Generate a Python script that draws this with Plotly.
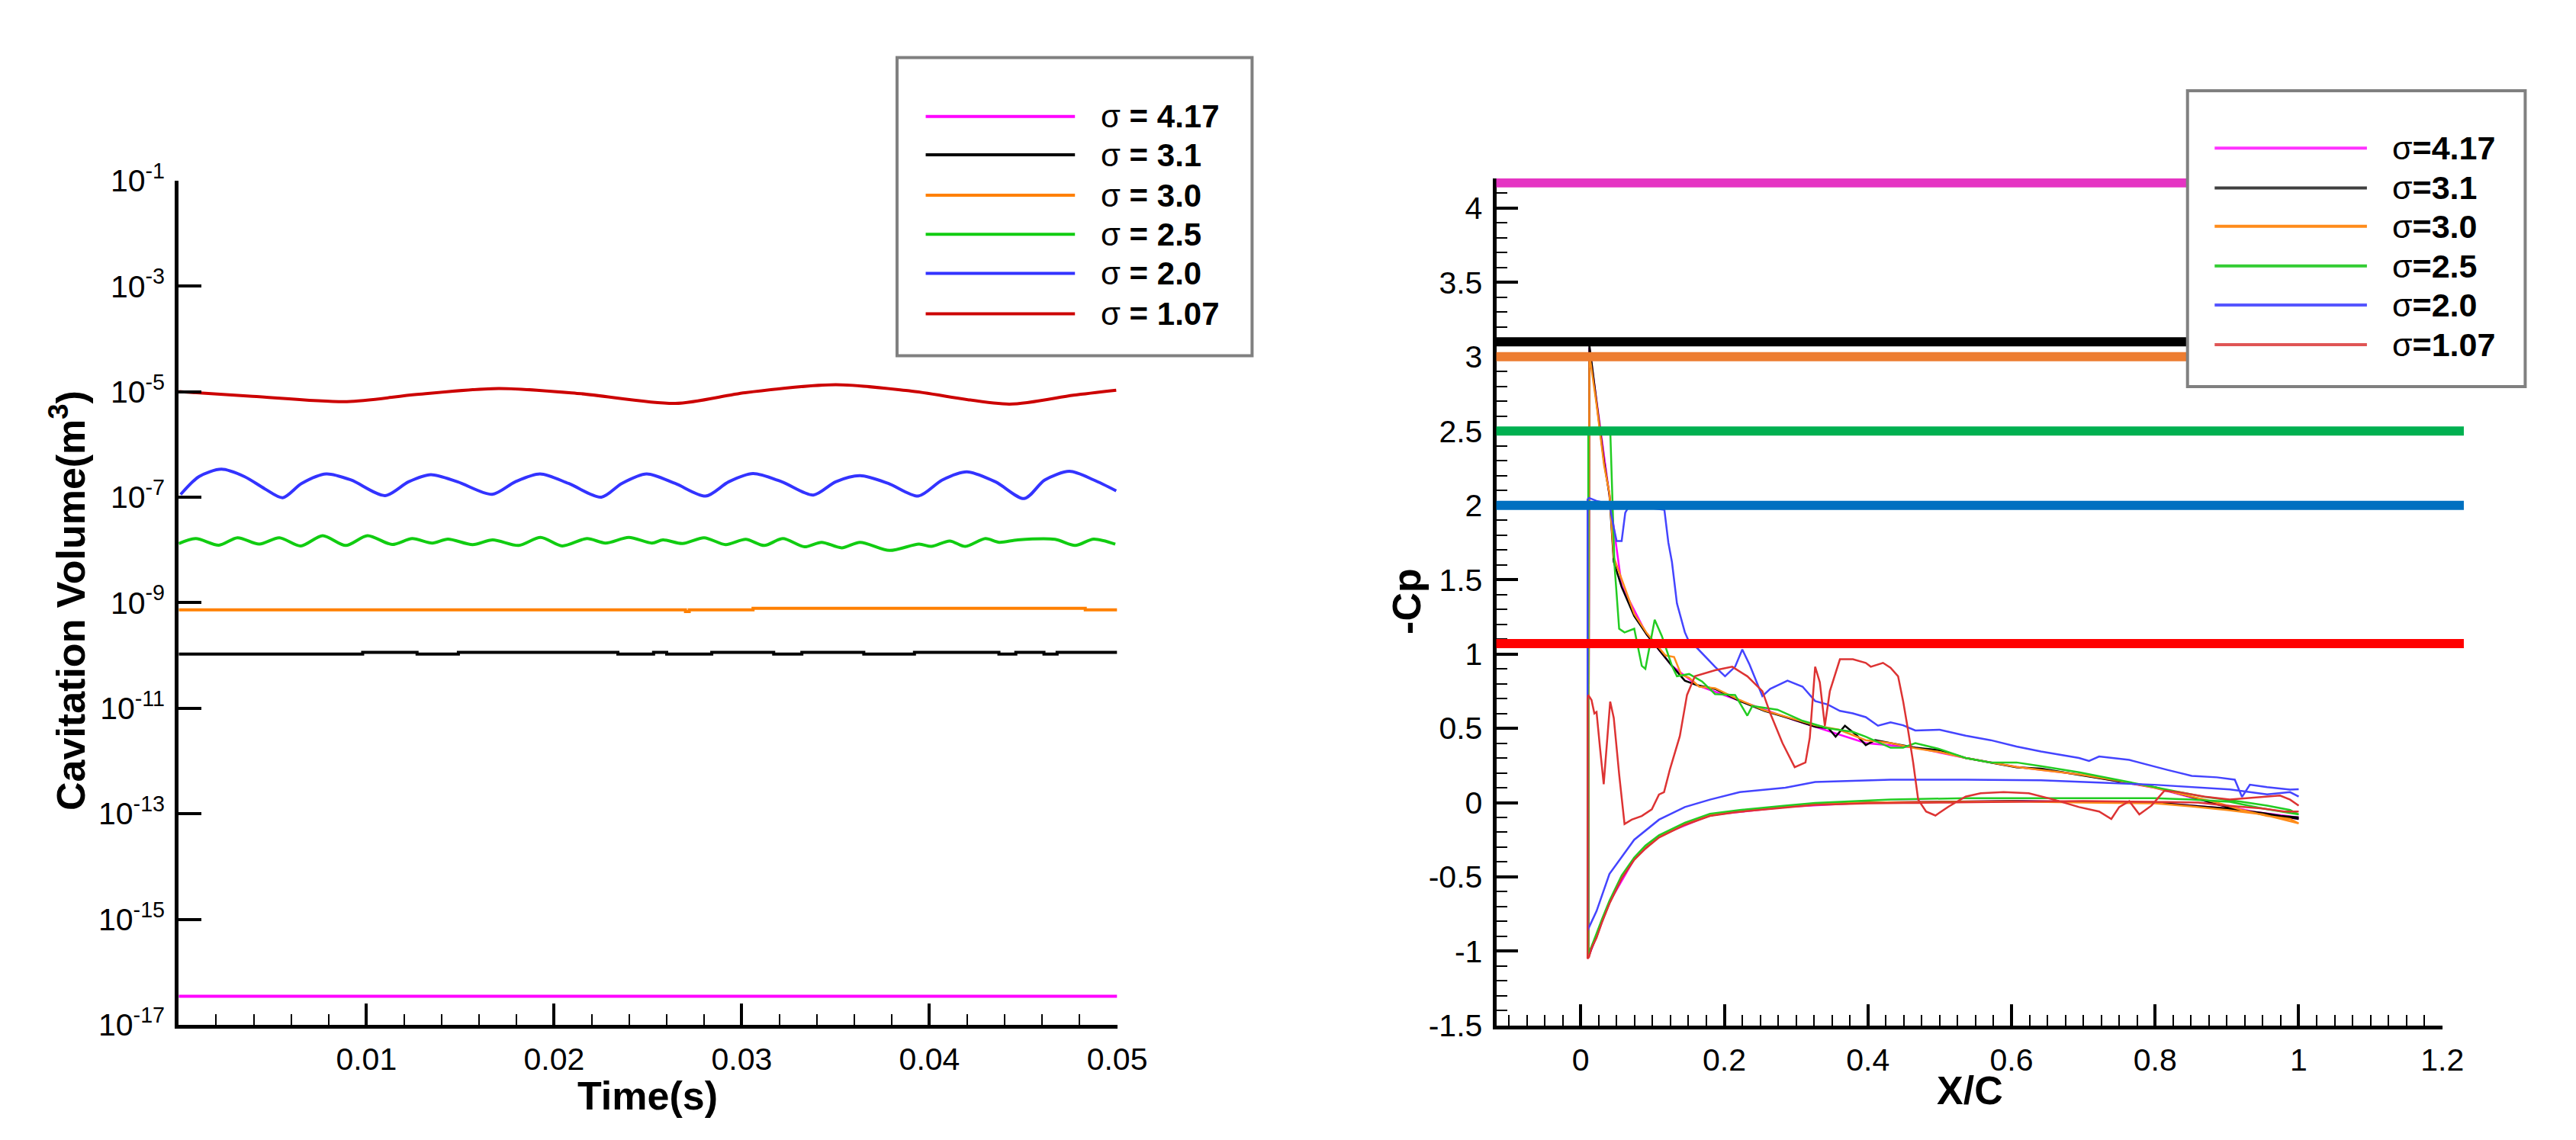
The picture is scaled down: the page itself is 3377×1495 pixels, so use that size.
import numpy as np
import plotly.graph_objects as go

W, H = 3377, 1495
FONT = "Liberation Sans, Arial, sans-serif"

# ---------------- left panel: cavitation volume (log10 of m^3) vs time ----------------
t_417 = [0.0, 0.05]
lv_417 = [-16.46, -16.46]

t_31 = [0, 0.0098, 0.0127, 0.0149, 0.0234, 0.0253, 0.0260, 0.0284, 0.0317,
        0.0332, 0.0365, 0.0392, 0.0437, 0.0446, 0.0461, 0.0468, 0.050]
lv_31 = [-9.975, -9.94, -9.975, -9.94, -9.975, -9.94, -9.975, -9.94, -9.975,
         -9.94, -9.975, -9.94, -9.975, -9.94, -9.975, -9.94, -9.94]

t_30 = [0, 0.0270, 0.0272, 0.0306, 0.0483, 0.050]
lv_30 = [-9.135, -9.17, -9.135, -9.108, -9.135, -9.135]

t_25 = [0, 0.00091, 0.00214, 0.00313, 0.00429, 0.00536, 0.0065, 0.00767, 0.0089,
        0.01006, 0.01137, 0.01244, 0.01351, 0.01434, 0.01566, 0.01673, 0.01811,
        0.01928, 0.02043, 0.02175, 0.02274, 0.02398, 0.02521, 0.0258, 0.02684,
        0.02799, 0.02914, 0.03021, 0.0312, 0.03219, 0.03334, 0.03425, 0.03532,
        0.0363, 0.03787, 0.03944, 0.0401, 0.04108, 0.04191, 0.04298, 0.04372,
        0.04471, 0.04669, 0.04776, 0.04875, 0.0499]
lv_25 = [-7.88, -7.785, -7.91, -7.77, -7.89, -7.77, -7.925, -7.73, -7.916,
         -7.73, -7.897, -7.785, -7.87, -7.795, -7.90, -7.81, -7.916,
         -7.763, -7.925, -7.785, -7.87, -7.763, -7.87, -7.81, -7.88,
         -7.77, -7.90, -7.80, -7.916, -7.785, -7.94, -7.855, -7.96,
         -7.855, -8.01, -7.89, -7.934, -7.83, -7.934, -7.785, -7.855,
         -7.81, -7.80, -7.916, -7.795, -7.89]

t_20 = [0.0001, 0.00108, 0.00227, 0.0035, 0.00458, 0.00554, 0.00655, 0.00786,
        0.00918, 0.0110, 0.01224, 0.01343, 0.01486, 0.0167, 0.01793, 0.01925,
        0.02077, 0.02252, 0.02361, 0.02493, 0.02645, 0.02808, 0.0293, 0.0306,
        0.03214, 0.03381, 0.035, 0.0363, 0.0378, 0.0394, 0.04068, 0.04199,
        0.04352, 0.04505, 0.04614, 0.04746, 0.04876, 0.04995]
lv_20 = [-6.95, -6.61, -6.47, -6.61, -6.84, -7.01, -6.74, -6.56,
         -6.675, -6.97, -6.71, -6.574, -6.71, -6.946, -6.71, -6.56,
         -6.74, -7.0, -6.74, -6.56, -6.74, -6.98, -6.71, -6.553,
         -6.71, -6.96, -6.71, -6.594, -6.74, -6.98, -6.675, -6.52,
         -6.71, -7.027, -6.675, -6.51, -6.675, -6.88]

t_107 = [0, 0.00393, 0.00896, 0.01268, 0.01705, 0.02143, 0.02646, 0.03018,
         0.0350, 0.03893, 0.04426, 0.04767, 0.04995]
lv_107 = [-5.0, -5.088, -5.19, -5.054, -4.94, -5.04, -5.223, -5.02,
          -4.87, -4.986, -5.237, -5.068, -4.973]

# ---------------- right panel: -Cp along the chord, upper and lower surfaces ----------------
xu_417 = [0.012, 0.022, 0.040, 0.057, 0.092, 0.127, 0.162, 0.2215, 0.291, 0.3265, 0.397,
          0.466, 0.536, 0.607, 0.694, 0.799, 0.886, 0.956, 1.0]
cu_417 = [3.06, 2.70, 2.06, 1.46, 1.13, 0.92, 0.79, 0.685, 0.565, 0.51, 0.40,
          0.37, 0.30, 0.24, 0.19, 0.10, -0.01, -0.08, -0.11]
xl_417 = [0.0105, 0.022, 0.040, 0.0745, 0.109, 0.18, 0.285, 0.40, 0.60, 0.80, 0.90, 1.0]
cl_417 = [-1.04, -0.90, -0.67, -0.38, -0.225, -0.085, -0.03, 0.0, 0.01, 0.0, -0.04, -0.10]

xu_31 = [0.012, 0.016, 0.022, 0.0325, 0.040, 0.046, 0.057, 0.0745, 0.092, 0.109, 0.127,
         0.145, 0.162, 0.187, 0.2215, 0.256, 0.291, 0.3265, 0.345, 0.355, 0.368, 0.385,
         0.397, 0.41, 0.4315, 0.466, 0.50, 0.536, 0.571, 0.607, 0.641, 0.694, 0.746,
         0.799, 0.851, 0.886, 0.921, 0.956, 0.988, 1.0]
cu_31 = [3.08, 2.95, 2.71, 2.29, 2.07, 1.62, 1.45, 1.255, 1.13, 1.03, 0.92,
         0.82, 0.79, 0.765, 0.683, 0.617, 0.567, 0.51, 0.50, 0.443, 0.517, 0.45,
         0.387, 0.42, 0.40, 0.369, 0.352, 0.30, 0.27, 0.237, 0.228, 0.187, 0.145,
         0.104, 0.038, -0.012, -0.053, -0.086, -0.10, -0.11]
xl_31 = [0.0105, 0.015, 0.022, 0.030, 0.040, 0.057, 0.0745, 0.09, 0.109, 0.145, 0.18,
         0.215, 0.285, 0.3265, 0.40, 0.50, 0.60, 0.70, 0.80, 0.85, 0.90, 0.95, 0.975, 1.0]
cl_31 = [-1.04, -0.98, -0.90, -0.79, -0.675, -0.506, -0.38, -0.30, -0.228, -0.144, -0.087,
         -0.06, -0.03, -0.01, 0.0, 0.005, 0.01, 0.005, 0.0, -0.02, -0.04, -0.07, -0.09, -0.10]

xu_30 = [0.012, 0.016, 0.022, 0.0325, 0.040, 0.046, 0.057, 0.0745, 0.092, 0.109, 0.118,
         0.130, 0.140, 0.151, 0.165, 0.187, 0.2215, 0.256, 0.291, 0.3265, 0.36, 0.397,
         0.4315, 0.466, 0.50, 0.536, 0.571, 0.607, 0.641, 0.694, 0.746, 0.799, 0.851,
         0.886, 0.921, 0.956, 0.988, 1.0]
cu_30 = [3.02, 2.90, 2.68, 2.27, 2.08, 1.65, 1.50, 1.27, 1.14, 1.04, 0.99,
         0.98, 0.86, 0.84, 0.78, 0.77, 0.69, 0.62, 0.57, 0.52, 0.49, 0.42,
         0.40, 0.365, 0.34, 0.30, 0.27, 0.24, 0.22, 0.19, 0.15, 0.10, 0.04,
         0.0, -0.05, -0.09, -0.11, -0.14]
xl_30 = [0.0105, 0.015, 0.022, 0.030, 0.040, 0.057, 0.0745, 0.09, 0.109, 0.145, 0.18,
         0.215, 0.285, 0.3265, 0.40, 0.50, 0.60, 0.70, 0.80, 0.85, 0.90, 0.95, 0.975, 1.0]
cl_30 = [-1.03, -0.97, -0.89, -0.785, -0.67, -0.50, -0.375, -0.295, -0.225, -0.14, -0.085,
         -0.058, -0.028, -0.01, 0.0, 0.005, 0.008, 0.0, -0.005, -0.025, -0.05, -0.08, -0.11, -0.14]

xu_25 = [0.0105, 0.041, 0.047, 0.0535, 0.061, 0.0745, 0.085, 0.090, 0.103, 0.113, 0.127,
         0.134, 0.151, 0.169, 0.187, 0.215, 0.232, 0.239, 0.274, 0.309, 0.344, 0.379,
         0.397, 0.4315, 0.449, 0.466, 0.50, 0.536, 0.571, 0.607, 0.641, 0.694, 0.746,
         0.799, 0.869, 0.921, 0.956, 0.988, 1.0]
cu_25 = [2.52, 2.52, 1.60, 1.17, 1.145, 1.17, 0.92, 0.90, 1.23, 1.12, 0.92,
         0.85, 0.865, 0.815, 0.73, 0.724, 0.585, 0.65, 0.625, 0.55, 0.50, 0.476,
         0.443, 0.369, 0.37, 0.40, 0.36, 0.30, 0.27, 0.27, 0.245, 0.204, 0.154,
         0.104, 0.038, 0.005, -0.02, -0.05, -0.08]
xl_25 = [0.0105, 0.015, 0.022, 0.030, 0.040, 0.057, 0.0745, 0.09, 0.109, 0.145, 0.18,
         0.2215, 0.285, 0.3265, 0.4315, 0.536, 0.589, 0.70, 0.799, 0.85, 0.904, 0.95, 0.988, 1.0]
cl_25 = [-1.02, -0.97, -0.88, -0.78, -0.66, -0.49, -0.37, -0.29, -0.22, -0.135, -0.075,
         -0.05, -0.02, -0.003, 0.02, 0.03, 0.03, 0.03, 0.03, 0.02, 0.005, -0.04, -0.07, -0.08]

xu_20 = [0.0095, 0.0115, 0.022, 0.040, 0.046, 0.050, 0.057, 0.062, 0.068, 0.1165, 0.122,
         0.127, 0.134, 0.145, 0.151, 0.162, 0.187, 0.201, 0.215, 0.225, 0.235, 0.253,
         0.264, 0.288, 0.309, 0.3265, 0.344, 0.361, 0.379, 0.397, 0.414, 0.4315, 0.449,
         0.466, 0.50, 0.536, 0.571, 0.607, 0.641, 0.694, 0.708, 0.722, 0.764, 0.817,
         0.851, 0.886, 0.911, 0.921, 0.932, 0.956, 0.988, 1.0]
cu_20 = [2.04, 2.05, 2.03, 2.01, 1.85, 1.76, 1.76, 1.95, 2.0, 1.97, 1.75,
         1.62, 1.34, 1.146, 1.08, 1.04, 0.914, 0.85, 0.914, 1.03, 0.93, 0.716,
         0.765, 0.82, 0.78, 0.683, 0.66, 0.617, 0.60, 0.575, 0.517, 0.54, 0.52,
         0.485, 0.49, 0.45, 0.42, 0.377, 0.344, 0.30, 0.28, 0.31, 0.287, 0.22,
         0.18, 0.17, 0.154, 0.038, 0.12, 0.104, 0.087, 0.09]
xl_20 = [0.0095, 0.0115, 0.022, 0.040, 0.0745, 0.109, 0.145, 0.18, 0.2215, 0.285, 0.3265,
         0.4315, 0.536, 0.641, 0.694, 0.799, 0.904, 0.956, 0.988, 1.0]
cl_20 = [-0.86, -0.84, -0.73, -0.48, -0.25, -0.115, -0.03, 0.02, 0.071, 0.10, 0.139,
         0.154, 0.154, 0.15, 0.139, 0.12, 0.088, 0.055, 0.07, 0.04]

xu_107 = [0.0095, 0.0105, 0.015, 0.019, 0.022, 0.027, 0.032, 0.036, 0.041, 0.046, 0.0535,
          0.061, 0.071, 0.085, 0.099, 0.109, 0.116, 0.124, 0.138, 0.148, 0.159, 0.187,
          0.211, 0.232, 0.253, 0.264, 0.281, 0.298, 0.313, 0.319, 0.3265, 0.333, 0.34,
          0.347, 0.361, 0.379, 0.397, 0.404, 0.421, 0.4315, 0.442, 0.449, 0.456, 0.463,
          0.47, 0.481, 0.494, 0.512, 0.536, 0.557, 0.589, 0.624, 0.659, 0.694, 0.722,
          0.739, 0.75, 0.764, 0.778, 0.795, 0.813, 0.834, 0.869, 0.904, 0.932, 0.956,
          0.974, 0.988, 1.0]
cu_107 = [0.70, 0.724, 0.69, 0.60, 0.61, 0.36, 0.124, 0.387, 0.68, 0.57, 0.19,
          -0.144, -0.115, -0.09, -0.045, 0.054, 0.07, 0.22, 0.447, 0.724, 0.85, 0.89,
          0.914, 0.85, 0.75, 0.60, 0.40, 0.238, 0.27, 0.436, 0.914, 0.81, 0.517,
          0.75, 0.964, 0.964, 0.94, 0.914, 0.94, 0.907, 0.85, 0.683, 0.485, 0.27,
          0.02, -0.06, -0.087, -0.028, 0.04, 0.063, 0.071, 0.063, 0.02, -0.03, -0.06,
          -0.11, -0.03, 0.01, -0.08, -0.02, 0.08, 0.07, 0.04, 0.02, 0.028, 0.04,
          0.047, 0.02, -0.02]
xl_107 = [0.0095, 0.0115, 0.015, 0.022, 0.030, 0.040, 0.057, 0.0745, 0.09, 0.109, 0.145,
          0.18, 0.215, 0.285, 0.3265, 0.40, 0.50, 0.60, 0.70, 0.80, 0.86, 0.90, 0.95, 0.98, 1.0]
cl_107 = [-1.05, -1.04, -0.98, -0.91, -0.80, -0.68, -0.51, -0.385, -0.31, -0.235, -0.15,
          -0.09, -0.065, -0.035, -0.015, -0.005, 0.0, 0.005, 0.01, 0.005, 0.0, -0.02, -0.04, -0.06, -0.06]

sigma_labels = ["4.17", "3.1", "3.0", "2.5", "2.0", "1.07"]
sigma_values = [4.17, 3.1, 3.0, 2.5, 2.0, 1.07]
sigma_span = [-0.12, 1.23]

left_colors = ["#FF00FF", "#000000", "#FF8000", "#11CC11", "#3333FF", "#CC0000"]
cp_colors = ["#FF00FF", "#000000", "#FF8C1A", "#22CC22", "#4444FF", "#DD3333"]
sigma_colors = ["#E535C3", "#000000", "#ED7D31", "#00B050", "#0070C0", "#FF0000"]
right_key_colors = ["#FF33FF", "#404040", "#FF8C1A", "#33CC33", "#5555FF", "#E05555"]


def px(x):
    return x / W


def py(y):
    return 1 - y / H


fig = go.Figure()

# left panel curves
left_series = [(t_417, lv_417, "linear"), (t_31, lv_31, "hv"), (t_30, lv_30, "hv"),
               (t_25, lv_25, "spline"), (t_20, lv_20, "spline"), (t_107, lv_107, "spline")]
for (t, lv, shape), col in zip(left_series, left_colors):
    fig.add_trace(go.Scatter(x=t, y=10 ** np.array(lv), mode="lines", xaxis="x", yaxis="y",
                             line=dict(color=col, width=4, shape=shape, smoothing=0.8),
                             showlegend=False, hoverinfo="skip"))

# right panel Cp loops: upper surface TE -> LE, then lower surface LE -> TE
cp_series = [(xu_417, cu_417, xl_417, cl_417), (xu_31, cu_31, xl_31, cl_31),
             (xu_30, cu_30, xl_30, cl_30), (xu_25, cu_25, xl_25, cl_25),
             (xu_20, cu_20, xl_20, cl_20), (xu_107, cu_107, xl_107, cl_107)]
for (xu, cu, xl, cl), col in zip(cp_series, cp_colors):
    fig.add_trace(go.Scatter(x=xu[::-1] + xl, y=cu[::-1] + cl, mode="lines",
                             xaxis="x2", yaxis="y2", line=dict(color=col, width=2.5),
                             showlegend=False, hoverinfo="skip"))

# thick sigma reference lines (drawn on an invisible axis that runs a bit past 1.2)
for s, col in zip(sigma_values, sigma_colors):
    fig.add_trace(go.Scatter(x=sigma_span, y=[s, s], mode="lines", xaxis="x3", yaxis="y2",
                             line=dict(color=col, width=12), showlegend=False,
                             hoverinfo="skip"))

tickfont = dict(family=FONT, size=41, color="black")
axis_common = dict(showline=True, linewidth=5, linecolor="black", ticks="inside",
                   tickwidth=4, tickcolor="black", showgrid=False, zeroline=False,
                   tickfont=tickfont, ticklabelstandoff=5, mirror=False)

left_exp = [-17, -15, -13, -11, -9, -7, -5, -3, -1]
right_x_ticks = [0, 0.2, 0.4, 0.6, 0.8, 1.0, 1.2]
right_y_ticks = [-1.5, -1, -0.5, 0, 0.5, 1, 1.5, 2, 2.5, 3, 3.5, 4]

fig.update_layout(
    width=W, height=H,
    margin=dict(l=0, r=0, t=0, b=0),
    paper_bgcolor="white", plot_bgcolor="rgba(0,0,0,0)",
    showlegend=False,
    xaxis=dict(axis_common, domain=[px(229), px(1474)], range=[0, 0.05], anchor="y",
               tickmode="array", tickvals=[0.01, 0.02, 0.03, 0.04, 0.05],
               ticktext=["0.01", "0.02", "0.03", "0.04", "0.05"], ticklen=28,
               minor=dict(tickmode="linear", tick0=0, dtick=0.002, ticks="inside",
                          ticklen=14, tickwidth=2, tickcolor="black")),
    yaxis=dict(axis_common, domain=[py(1354), py(207)], type="log", range=[-17, -1],
               anchor="x", tickmode="array", tickvals=[10.0 ** e for e in left_exp],
               ticktext=["10<sup>%d</sup>" % e for e in left_exp], ticklen=30),
    xaxis2=dict(axis_common, domain=[px(1977), px(3232)], range=[-0.1176, 1.2], anchor="y2",
                tickmode="array", tickvals=right_x_ticks,
                ticktext=["0", "0.2", "0.4", "0.6", "0.8", "1", "1.2"], ticklen=28,
                minor=dict(tickmode="linear", tick0=0, dtick=0.025, ticks="inside",
                           ticklen=14, tickwidth=2, tickcolor="black")),
    yaxis2=dict(axis_common, domain=[py(1355), py(204)], range=[-1.5, 4.2], anchor="x2",
                tickmode="array", tickvals=right_y_ticks,
                ticktext=["-1.5", "-1", "-0.5", "0", "0.5", "1", "1.5", "2", "2.5", "3",
                          "3.5", "4"], ticklen=28,
                minor=dict(tickmode="linear", tick0=0, dtick=0.1, ticks="inside",
                           ticklen=14, tickwidth=2, tickcolor="black")),
    xaxis3=dict(domain=[px(1977), px(3262)], range=[-0.1176, 1.2315], anchor="y2",
                visible=False, showgrid=False, zeroline=False),
)

# axis titles
title_font = dict(family=FONT, size=52, color="black")
fig.add_annotation(text="<b>Time(s)</b>", x=px(851), y=py(1450), xref="paper", yref="paper",
                   showarrow=False, font=title_font, xanchor="center", yanchor="middle")
fig.add_annotation(text="<b>Cavitation Volume(m<sup>3</sup>)</b>", x=px(82), y=py(778),
                   xref="paper", yref="paper", showarrow=False, font=title_font,
                   textangle=-90, xanchor="center", yanchor="middle")
fig.add_annotation(text="<b>X/C</b>", x=px(2605), y=py(1443), xref="paper", yref="paper",
                   showarrow=False, font=title_font, xanchor="center", yanchor="middle")
fig.add_annotation(text="<b>-Cp</b>", x=px(1858), y=py(778), xref="paper", yref="paper",
                   showarrow=False, font=title_font, textangle=-90,
                   xanchor="center", yanchor="middle")


# legend boxes drawn like the original Tecplot legends
def draw_key(box, line_x0, line_x1, text_x, rows, colors, fmt, size):
    x0, y0, x1, y1 = box
    fig.add_shape(type="rect", xref="paper", yref="paper", x0=px(x0), x1=px(x1),
                  y0=py(y1), y1=py(y0), line=dict(color="#808080", width=4),
                  fillcolor="white", layer="above")
    for lab, row, col in zip(sigma_labels, rows, colors):
        fig.add_shape(type="line", xref="paper", yref="paper", x0=px(line_x0), x1=px(line_x1),
                      y0=py(row), y1=py(row), line=dict(color=col, width=4), layer="above")
        fig.add_annotation(text=fmt % lab, x=px(text_x), y=py(row), xref="paper", yref="paper",
                           showarrow=False, xanchor="left", yanchor="middle",
                           font=dict(family=FONT, size=size, color="black"))


draw_key((1182, 40, 1653, 445), 1220, 1418, 1450, [120, 172, 227, 280, 333, 388],
         left_colors, "σ <b>= %s</b>", 42)
draw_key((2894, 85, 3342, 487), 2930, 3132, 3163, [163, 217, 269, 323, 376, 430],
         right_key_colors, "σ<b>=%s</b>", 43)

fig.write_html("out.html")
